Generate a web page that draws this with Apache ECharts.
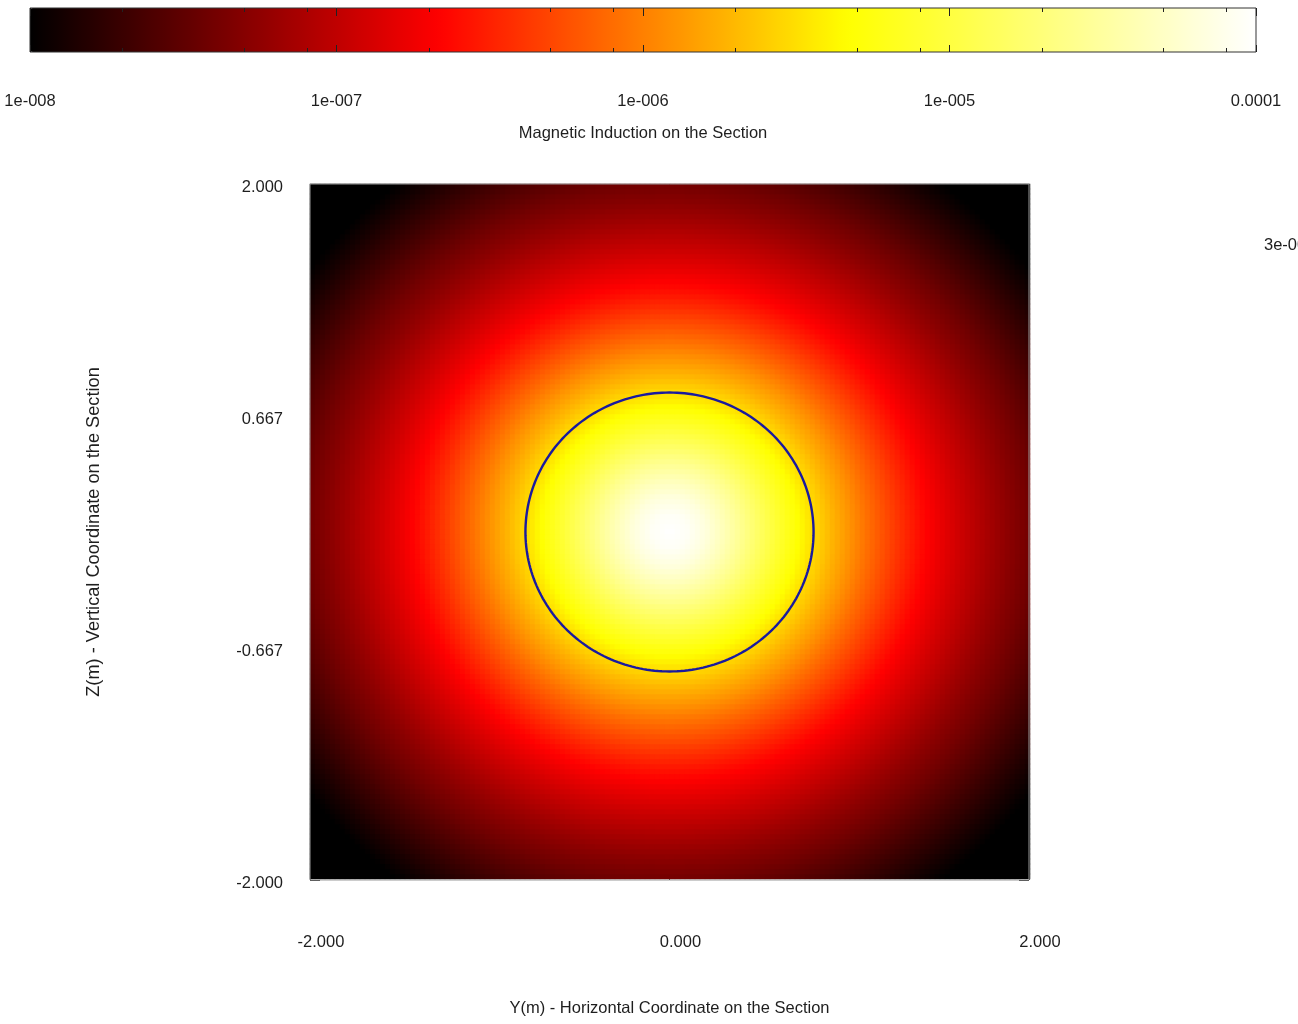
<!DOCTYPE html>
<html>
<head>
<meta charset="utf-8">
<title>Magnetic Induction on the Section</title>
<script src="https://cdn.jsdelivr.net/npm/echarts@6/dist/echarts.min.js"></script>
<style>
  html, body { margin: 0; padding: 0; background: #ffffff; }
  #chart { width: 1298px; height: 1024px; }
</style>
</head>
<body>
<div id="chart"></div>
<script>
// Radial profile of the induction, log10(B / T), measured from the conductor axis (m)
const profileRadius = [0.0, 0.1, 0.2, 0.3, 0.4, 0.5, 0.6, 0.7, 0.8, 0.9,
                       1.0, 1.1, 1.2, 1.3, 1.4, 1.5, 1.6, 1.7, 1.8, 1.9,
                       2.0, 2.1, 2.2, 2.3, 2.4, 2.5, 2.6, 2.7, 2.8, 2.9];
const profileLogB = [-4.00, -4.05, -4.18, -4.37, -4.59, -4.83, -5.07, -5.30, -5.52, -5.72,
                     -5.90, -6.09, -6.27, -6.45, -6.62, -6.77, -6.91, -7.04, -7.17, -7.29,
                     -7.40, -7.52, -7.64, -7.76, -7.88, -7.99, -8.10, -8.20, -8.30, -8.40];

// Iso-line drawn over the map (T)
const contourLevel = 3e-6;

// Section extent (m) and sampling (columns along Y, rows along Z)
const sectionMin = -2;
const sectionMax = 2;
const cellsY = 144;
const cellsZ = 139;

// Axis tick values
const horizontalTicks = [-2, 0, 2];
const verticalTicks = [-2, -0.667, 0.667, 2];

// Colour bar: decades shown and minor tick mantissas
const colorbarDecades = [-8, -7, -6, -5, -4];
const colorbarMantissas = [1, 2, 5, 8];

const FONT = "'Liberation Sans', Arial, sans-serif";
const TEXT_COLOR = '#1e1e1e';
const textStyle = { fontFamily: FONT, fontSize: 16.5, color: TEXT_COLOR };
const verticalNameStyle = { fontFamily: FONT, fontSize: 18.2, color: TEXT_COLOR };

function formatInduction(v) {
  if (v >= 1e-4) return String(+v.toPrecision(6));
  const e = Math.floor(Math.log10(v) + 1e-9);
  const m = Math.round(v / Math.pow(10, e));
  return m + 'e-' + String(-e).padStart(3, '0');
}

function profileAt(r) {
  const n = profileRadius.length;
  if (r <= profileRadius[0]) return profileLogB[0];
  if (r >= profileRadius[n - 1]) return profileLogB[n - 1];
  let i = 0;
  while (profileRadius[i + 1] < r) i++;
  const t = (r - profileRadius[i]) / (profileRadius[i + 1] - profileRadius[i]);
  return profileLogB[i] + t * (profileLogB[i + 1] - profileLogB[i]);
}

// Radius at which the profile crosses the iso-line level
function contourRadius(level) {
  const target = Math.log10(level);
  for (let i = 0; i < profileLogB.length - 1; i++) {
    const a = profileLogB[i], b = profileLogB[i + 1];
    if (a >= target && b <= target) {
      return profileRadius[i] + (a - target) / (a - b) * (profileRadius[i + 1] - profileRadius[i]);
    }
  }
  return profileRadius[profileRadius.length - 1];
}

function centres(count) {
  const step = (sectionMax - sectionMin) / count;
  const out = [];
  for (let i = 0; i < count; i++) out.push(sectionMin + (i + 0.5) * step);
  return out;
}
const centresY = centres(cellsY);
const centresZ = centres(cellsZ);

const fieldCells = [];
for (let j = 0; j < cellsZ; j++) {
  for (let i = 0; i < cellsY; i++) {
    const r = Math.hypot(centresY[i], centresZ[j]);
    fieldCells.push([i, j, Math.max(-8, profileAt(r))]);
  }
}

const colorbarMinor = [];
colorbarDecades.forEach(function (e, k) {
  if (k === colorbarDecades.length - 1) return;
  colorbarMantissas.forEach(function (m) {
    if (m !== 1) colorbarMinor.push(Math.log10(m) + e);
  });
});

const chart = echarts.init(document.getElementById('chart'), null, { renderer: 'canvas' });

const plotTicks = { show: true, inside: true, length: 10, lineStyle: { color: '#222', width: 1 } };
const hiddenLine = { show: false, onZero: false };

chart.setOption({
  animation: false,
  backgroundColor: '#ffffff',
  grid: [
    // raster of cells (whole-pixel cell size)
    { left: 310, top: 184, width: 720, height: 695, show: false },
    // colour bar
    { left: 30, top: 8, width: 1226, height: 44, show: true, borderColor: '#333333', borderWidth: 1, backgroundColor: 'transparent', z: 10 },
    // section axes, frame and iso-line
    { left: 310, top: 184, width: 719, height: 696, show: true, borderColor: '#9a9a9a', borderWidth: 1, backgroundColor: 'transparent', z: 3 }
  ],
  visualMap: {
    type: 'continuous',
    min: -8,
    max: -4,
    seriesIndex: 0,
    orient: 'horizontal',
    left: 30,
    top: 8,
    itemWidth: 44,
    itemHeight: 1226,
    padding: 0,
    itemGap: 0,
    calculable: false,
    hoverLink: false,
    inRange: { color: ['#000000', '#ff0000', '#ffff00', '#ffffff'] }
  },
  xAxis: [
    { type: 'category', gridIndex: 0, data: centresY, show: false },
    {
      type: 'value', gridIndex: 2, min: sectionMin, max: sectionMax, position: 'bottom',
      axisLine: hiddenLine, splitLine: { show: false },
      axisTick: Object.assign({ customValues: horizontalTicks }, plotTicks),
      axisLabel: Object.assign({ customValues: horizontalTicks, margin: 54, padding: [0, 0, 0, 22],
        formatter: function (v) { return v.toFixed(3); } }, textStyle),
      name: 'Y(m) - Horizontal Coordinate on the Section',
      nameLocation: 'middle', nameGap: 120, nameTextStyle: textStyle
    },
    {
      type: 'value', gridIndex: 2, min: sectionMin, max: sectionMax, position: 'top',
      axisLine: hiddenLine, splitLine: { show: false }, axisLabel: { show: false },
      axisTick: Object.assign({ customValues: horizontalTicks }, plotTicks)
    },
    {
      type: 'value', gridIndex: 1, min: -8, max: -4, position: 'bottom', z: 11,
      axisLine: hiddenLine, splitLine: { show: false },
      axisTick: { show: true, inside: true, length: 4, customValues: colorbarMinor, lineStyle: { color: '#222' } },
      axisLabel: Object.assign({ customValues: colorbarDecades, margin: 41,
        formatter: function (v) { return formatInduction(Math.pow(10, v)); } }, textStyle),
      name: 'Magnetic Induction on the Section',
      nameLocation: 'middle', nameGap: 73, nameTextStyle: textStyle
    },
    {
      type: 'value', gridIndex: 1, min: -8, max: -4, position: 'bottom', z: 11,
      axisLine: hiddenLine, splitLine: { show: false }, axisLabel: { show: false },
      axisTick: { show: true, inside: true, length: 7, customValues: colorbarDecades, lineStyle: { color: '#222' } }
    },
    {
      type: 'value', gridIndex: 1, min: -8, max: -4, position: 'top', z: 11,
      axisLine: hiddenLine, splitLine: { show: false }, axisLabel: { show: false },
      axisTick: { show: true, inside: true, length: 4, customValues: colorbarMinor, lineStyle: { color: '#222' } }
    },
    {
      type: 'value', gridIndex: 1, min: -8, max: -4, position: 'top', z: 11,
      axisLine: hiddenLine, splitLine: { show: false }, axisLabel: { show: false },
      axisTick: { show: true, inside: true, length: 8, customValues: colorbarDecades, lineStyle: { color: '#222' } }
    }
  ],
  yAxis: [
    { type: 'category', gridIndex: 0, data: centresZ, show: false },
    {
      type: 'value', gridIndex: 2, min: sectionMin, max: sectionMax, position: 'left',
      axisLine: hiddenLine, splitLine: { show: false },
      axisTick: Object.assign({ customValues: verticalTicks }, plotTicks),
      axisLabel: Object.assign({ customValues: verticalTicks, margin: 27, verticalAlign: 'top', padding: [-5, 0, 0, 0],
        formatter: function (v) { return v.toFixed(3); } }, textStyle),
      name: 'Z(m) - Vertical Coordinate on the Section',
      nameLocation: 'middle', nameGap: 207, nameTextStyle: verticalNameStyle
    },
    {
      type: 'value', gridIndex: 2, min: sectionMin, max: sectionMax, position: 'right',
      axisLine: hiddenLine, splitLine: { show: false }, axisLabel: { show: false },
      axisTick: Object.assign({ customValues: verticalTicks }, plotTicks)
    },
    { type: 'value', gridIndex: 1, min: 0, max: 1, show: false }
  ],
  series: [
    {
      type: 'heatmap',
      xAxisIndex: 0,
      yAxisIndex: 0,
      data: fieldCells,
      progressive: 0,
      silent: true,
      itemStyle: { borderWidth: 0 },
      emphasis: { disabled: true }
    },
    {
      type: 'custom',
      xAxisIndex: 1,
      yAxisIndex: 1,
      silent: true,
      z: 4,
      encode: { x: 0, y: 1 },
      data: [[0, 0, contourRadius(contourLevel)]],
      renderItem: function (params, api) {
        const cx = api.value(0), cy = api.value(1), rad = api.value(2);
        const pts = [];
        for (let k = 0; k < 240; k++) {
          const a = k / 240 * Math.PI * 2;
          pts.push(api.coord([cx + rad * Math.cos(a), cy + rad * Math.sin(a)]));
        }
        return {
          type: 'polygon',
          shape: { points: pts },
          style: { fill: 'none', stroke: '#1a1a9e', lineWidth: 2.4 }
        };
      }
    }
  ],
  graphic: [
    {
      type: 'text',
      x: 1264,
      y: 245,
      silent: true,
      style: {
        text: formatInduction(contourLevel),
        font: '16.5px ' + FONT,
        fill: TEXT_COLOR,
        verticalAlign: 'middle'
      }
    }
  ]
});
</script>
</body>
</html>
